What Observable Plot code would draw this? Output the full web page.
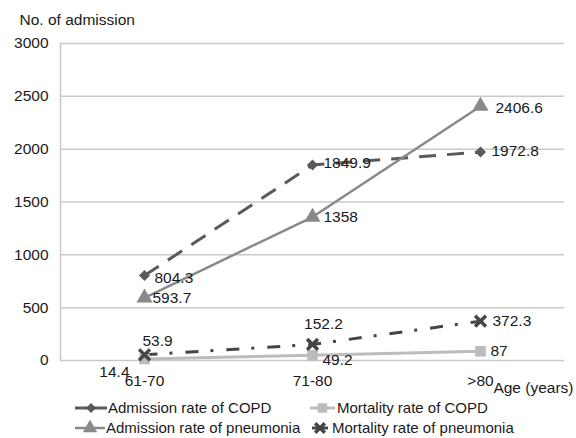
<!DOCTYPE html>
<html><head><meta charset="utf-8">
<script src="https://cdn.jsdelivr.net/npm/d3@7"></script>
<script src="https://cdn.jsdelivr.net/npm/@observablehq/plot@0.6"></script>
<style>
body{margin:0;background:#fff;font-family:"Liberation Sans",Arial,sans-serif;color:#1a1a1a;}
#wrap{position:relative;width:576px;height:438px;overflow:hidden;}
#chart svg{display:block;}
#legend{position:absolute;left:0;top:395px;width:576px;height:43px;font-size:15px;}
.sym{position:absolute;display:block;}
.txt{position:absolute;white-space:nowrap;line-height:18px;}
</style></head><body>
<div id="wrap"><div id="chart"></div><div id="legend"></div></div>
<script>
const ages = ["61-70", "71-80", ">80"];
const admissionCOPD = [804.3, 1849.9, 1972.8];
const mortalityCOPD = [14.4, 49.2, 87];
const admissionPneumonia = [593.7, 1358, 2406.6];
const mortalityPneumonia = [53.9, 152.2, 372.3];
const yTicks = [0, 500, 1000, 1500, 2000, 2500, 3000];
const seriesNames = ["Admission rate of COPD", "Mortality rate of COPD", "Admission rate of pneumonia", "Mortality rate of pneumonia"];
const seriesValues = [admissionCOPD, mortalityCOPD, admissionPneumonia, mortalityPneumonia];

// styles (separate from data)
const styles = {
  "Admission rate of COPD": {color: "#5a5a5a", dash: "17,11", width: 3, symbol: "diamond2", r: 5},
  "Mortality rate of COPD": {color: "#bcbcbc", dash: null, width: 3, symbol: "square", r: 6},
  "Admission rate of pneumonia": {color: "#898989", dash: null, width: 2.5, symbol: "triangle", r: 6},
  "Mortality rate of pneumonia": {color: "#464646", dash: "13,12,3,13", width: 3, symbol: "times", r: 5}
};
// label placement per series/point [dx, dy, anchor]
const placement = {
  "Admission rate of COPD": [[10, 3, "start"], [11, -2, "start"], [11, -1, "start"]],
  "Mortality rate of COPD": [[-15, 13, "end"], [10, 5, "start"], [10, 0, "start"]],
  "Admission rate of pneumonia": [[8, 0, "start"], [11, 0, "start"], [15, 2, "start"]],
  "Mortality rate of pneumonia": [[13, -14, "middle"], [11, -20, "middle"], [12, 0, "start"]]
};

const rows = [];
seriesNames.forEach((s, si) => ages.forEach((a, i) => rows.push({series: s, age: a, value: seriesValues[si][i], i})));

const FS = 15.5;
const TXT = "#1a1a1a";
const marks = [
  Plot.gridY(yTicks, {stroke: "#c9c9c9", strokeOpacity: 1, strokeWidth: 1.5}),
  Plot.frame({anchor: "left", stroke: "#c9c9c9", strokeWidth: 1.5}),
  Plot.text(["No. of admission"], {frameAnchor: "top-left", dx: -41, dy: -23, lineAnchor: "middle", textAnchor: "start", fontSize: FS, fill: TXT})
];
const drawOrder = ["Mortality rate of COPD", "Mortality rate of pneumonia", "Admission rate of COPD", "Admission rate of pneumonia"];
for (const s of drawOrder) {
  const st = styles[s];
  const d = rows.filter(r => r.series === s);
  marks.push(Plot.line(d, {x: "age", y: "value", stroke: st.color, strokeWidth: st.width, strokeDasharray: st.dash ?? undefined, strokeLinecap: "butt"}));
}
for (const s of drawOrder) {
  const st = styles[s];
  const d = rows.filter(r => r.series === s);
  if (st.symbol === "times") {
    marks.push(Plot.dot(d, {x: "age", y: "value", symbol: "times", r: st.r, stroke: st.color, strokeWidth: 3.5}));
  } else {
    marks.push(Plot.dot(d, {x: "age", y: "value", symbol: st.symbol, r: st.r, fill: st.color, stroke: "none"}));
  }
}
for (const r of rows) {
  const [dx, dy, anchor] = placement[r.series][r.i];
  marks.push(Plot.text([r], {x: "age", y: "value", text: d => String(d.value), dx, dy, textAnchor: anchor, lineAnchor: "middle", fontSize: FS, fill: TXT}));
}

const chart = Plot.plot({
  width: 576,
  height: 438,
  marginLeft: 60,
  marginRight: 12,
  marginTop: 43,
  marginBottom: 78,
  style: {fontFamily: "Liberation Sans, Arial, sans-serif", fontSize: FS + "px", color: TXT, background: "#fff", overflow: "visible"},
  x: {type: "point", domain: ages, padding: 0.5, tickSize: 0, tickPadding: 14, label: "Age (years)", labelAnchor: "right", labelArrow: "none", labelOffset: 32},
  y: {domain: [0, 3000], ticks: yTicks, tickFormat: d3.format("d"), tickSize: 0, tickPadding: 12, label: null},
  marks
});
document.getElementById("chart").appendChild(chart);

// legend layout: [symbol left, symbol width, text left, row center]
const legendLayout = [[75, 32, 108, 13], [310, 25, 337, 13], [75, 30, 106, 33], [312, 16, 332, 33]];
const legend = document.getElementById("legend");
const ns = "http://www.w3.org/2000/svg";
const symMap = {diamond2: d3.symbolDiamond2, square: d3.symbolSquare, triangle: d3.symbolTriangle, times: d3.symbolTimes};
seriesNames.forEach((s, k) => {
  const st = styles[s];
  const [sx, w, tx, cy] = legendLayout[k];
  const svg = document.createElementNS(ns, "svg");
  svg.setAttribute("class", "sym");
  svg.setAttribute("width", w); svg.setAttribute("height", 16);
  svg.style.left = sx + "px"; svg.style.top = (cy - 8) + "px";
  const line = document.createElementNS(ns, "line");
  line.setAttribute("x1", 0); line.setAttribute("x2", w); line.setAttribute("y1", 8); line.setAttribute("y2", 8);
  line.setAttribute("stroke", st.color); line.setAttribute("stroke-width", st.width);
  svg.appendChild(line);
  const p = document.createElementNS(ns, "path");
  p.setAttribute("d", d3.symbol(symMap[st.symbol], Math.PI * st.r * st.r * 0.8)());
  p.setAttribute("transform", `translate(${w / 2},8)`);
  if (st.symbol === "times") { p.setAttribute("fill", "none"); p.setAttribute("stroke", st.color); p.setAttribute("stroke-width", 3.5); }
  else p.setAttribute("fill", st.color);
  svg.appendChild(p);
  legend.appendChild(svg);
  const span = document.createElement("span");
  span.className = "txt";
  span.textContent = s;
  span.style.left = tx + "px"; span.style.top = (cy - 9) + "px";
  legend.appendChild(span);
});
</script>
</body></html>
